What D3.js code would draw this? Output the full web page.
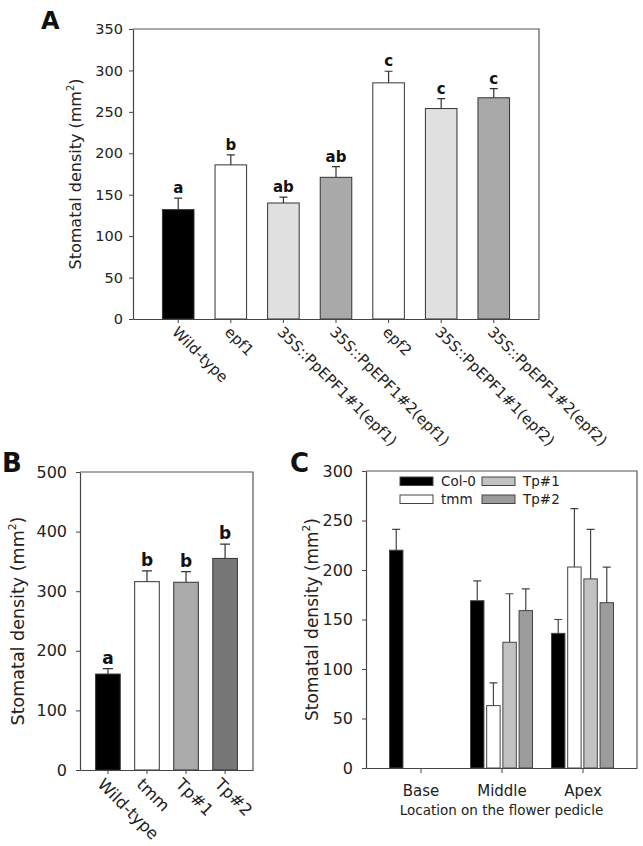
<!DOCTYPE html>
<html>
<head>
<meta charset="utf-8">
<script src="https://cdn.jsdelivr.net/npm/d3@7"></script>
<style>
  html, body { margin: 0; padding: 0; background: #fff; }
  svg { display: block; font-family: "DejaVu Sans", sans-serif; }
</style>
</head>
<body>
<svg id="chart" width="643" height="846"></svg>
<script>
// ---------- Panel A data ----------
const catsA = ["Wild-type", "epf1", "35S::PpEPF1#1(epf1)", "35S::PpEPF1#2(epf1)", "epf2", "35S::PpEPF1#1(epf2)", "35S::PpEPF1#2(epf2)"];
const meanA = [132, 186, 140, 171, 285, 254, 267];
const errA  = [14, 12, 7, 13, 14, 12, 11];
const sigA  = ["a", "b", "ab", "ab", "c", "c", "c"];
const ticksA = [0, 50, 100, 150, 200, 250, 300, 350];

// ---------- Panel B data ----------
const catsB = ["Wild-type", "tmm", "Tp#1", "Tp#2"];
const meanB = [161, 316, 315, 355];
const errB  = [9, 18, 18, 24];
const sigB  = ["a", "b", "b", "b"];
const ticksB = [0, 100, 200, 300, 400, 500];

// ---------- Panel C data ----------
const locationsC = ["Base", "Middle", "Apex"];
const linesC = ["Col-0", "tmm", "Tp#1", "Tp#2"];
const col0Mean = [220, 169, 136];
const col0Err  = [21, 20, 14];
const tmmMean  = [null, 63, 203];
const tmmErr   = [null, 23, 59];
const tp1Mean  = [null, 127, 191];
const tp1Err   = [null, 49, 50];
const tp2Mean  = [null, 159, 167];
const tp2Err   = [null, 22, 36];
const ticksC = [0, 50, 100, 150, 200, 250, 300];

// ---------- styles ----------
const fillA = ["#000000", "#ffffff", "#e0e0e0", "#a9a9a9", "#ffffff", "#e0e0e0", "#a9a9a9"];
const fillB = ["#000000", "#ffffff", "#aaaaaa", "#777777"];
const fillC = { "Col-0": "#000000", "tmm": "#ffffff", "Tp#1": "#c2c2c2", "Tp#2": "#9c9c9c" };
const axisColor = "#444";

const svg = d3.select("#chart");

function yLabel(g, x, y, size) {
  const t = g.append("text")
    .attr("transform", `translate(${x},${y}) rotate(-90)`)
    .attr("text-anchor", "middle")
    .attr("font-size", size)
    .attr("fill", "#222");
  t.append("tspan").text("Stomatal density (mm");
  t.append("tspan").attr("font-size", size * 0.62).attr("dy", -size * 0.45).text("2");
  t.append("tspan").attr("dy", size * 0.45).text(")");
}

function frame(g, x0, x1, y0, y1) {
  g.append("path")
    .attr("d", `M${x0},${y0}H${x1}V${y1}`)
    .attr("fill", "none").attr("stroke", "#555").attr("stroke-width", 1.2);
}

function styleAxis(sel, fs) {
  sel.selectAll("path").attr("stroke", axisColor).attr("stroke-width", 1.2);
  sel.selectAll("line").attr("stroke", axisColor);
  sel.selectAll("text").attr("font-size", fs).attr("fill", "#222").attr("font-family", "DejaVu Sans, sans-serif");
}

// ================= Panel A =================
(function () {
  const L = 133, R = 539, T = 29, B = 319;
  const g = svg.append("g");
  const x = d3.scaleBand().domain(catsA).range([L, R]).paddingInner(0.4).paddingOuter(0.56);
  const y = d3.scaleLinear().domain([0, 350]).range([B, T]);

  frame(g, L, R, T, B);

  const data = catsA.map((c, i) => ({ c, m: meanA[i], e: errA[i], s: sigA[i], f: fillA[i] }));

  g.selectAll("rect.bar").data(data).join("rect")
    .attr("x", d => x(d.c)).attr("width", x.bandwidth())
    .attr("y", d => y(d.m)).attr("height", d => y(0) - y(d.m))
    .attr("fill", d => d.f).attr("stroke", "#333").attr("stroke-width", 1);

  const cw = 4;
  g.selectAll("path.err").data(data).join("path")
    .attr("d", d => {
      const cx = x(d.c) + x.bandwidth() / 2;
      return `M${cx},${y(d.m)}V${y(d.m + d.e)}M${cx - cw},${y(d.m + d.e)}H${cx + cw}`;
    })
    .attr("stroke", "#333").attr("stroke-width", 1.2).attr("fill", "none");

  g.selectAll("text.sig").data(data).join("text")
    .attr("x", d => x(d.c) + x.bandwidth() / 2)
    .attr("y", d => y(d.m + d.e) - 5)
    .attr("text-anchor", "middle").attr("font-weight", "bold").attr("font-size", 15)
    .attr("fill", "#111").text(d => d.s);

  const ya = g.append("g").attr("transform", `translate(${L},0)`)
    .call(d3.axisLeft(y).tickValues(ticksA).tickSize(4).tickSizeOuter(0).tickPadding(6));
  styleAxis(ya, 14.5);

  const xa = g.append("g").attr("transform", `translate(0,${B})`)
    .call(d3.axisBottom(x).tickSize(4).tickSizeOuter(0));
  styleAxis(xa, 15);
  xa.selectAll("text")
    .attr("text-anchor", "start")
    .attr("transform", "translate(1,6) rotate(45)")
    .attr("x", 0).attr("y", 6).attr("dy", "0.35em");

  yLabel(g, 81, (T + B) / 2, 16);

  g.append("text").attr("x", 41).attr("y", 29).attr("font-size", 24)
    .attr("font-weight", "bold").attr("fill", "#111").text("A");
})();

// ================= Panel B =================
(function () {
  const L = 80, R = 253, T = 472, B = 770;
  const g = svg.append("g");
  const x = d3.scaleBand().domain(catsB).range([L, R]).paddingInner(0.37).paddingOuter(0.4);
  const y = d3.scaleLinear().domain([0, 500]).range([B, T]);

  frame(g, L, R, T, B);

  const data = catsB.map((c, i) => ({ c, m: meanB[i], e: errB[i], s: sigB[i], f: fillB[i] }));

  g.selectAll("rect.bar").data(data).join("rect")
    .attr("x", d => x(d.c)).attr("width", x.bandwidth())
    .attr("y", d => y(d.m)).attr("height", d => y(0) - y(d.m))
    .attr("fill", d => d.f).attr("stroke", "#333").attr("stroke-width", 1);

  const cw = 5;
  g.selectAll("path.err").data(data).join("path")
    .attr("d", d => {
      const cx = x(d.c) + x.bandwidth() / 2;
      return `M${cx},${y(d.m)}V${y(d.m + d.e)}M${cx - cw},${y(d.m + d.e)}H${cx + cw}`;
    })
    .attr("stroke", "#333").attr("stroke-width", 1.2).attr("fill", "none");

  g.selectAll("text.sig").data(data).join("text")
    .attr("x", d => x(d.c) + x.bandwidth() / 2)
    .attr("y", d => y(d.m + d.e) - 5)
    .attr("text-anchor", "middle").attr("font-weight", "bold").attr("font-size", 17)
    .attr("fill", "#111").text(d => d.s);

  const ya = g.append("g").attr("transform", `translate(${L},0)`)
    .call(d3.axisLeft(y).tickValues(ticksB).tickSize(4).tickSizeOuter(0).tickPadding(9));
  styleAxis(ya, 16);

  const xa = g.append("g").attr("transform", `translate(0,${B})`)
    .call(d3.axisBottom(x).tickSize(4).tickSizeOuter(0));
  styleAxis(xa, 16.5);
  xa.selectAll("text")
    .attr("text-anchor", "start")
    .attr("transform", "translate(-3,7) rotate(45)")
    .attr("x", 0).attr("y", 6).attr("dy", "0.35em");

  yLabel(g, 24, (T + B) / 2, 17.5);

  g.append("text").attr("x", 2).attr("y", 472).attr("font-size", 26)
    .attr("font-weight", "bold").attr("fill", "#111").text("B");
})();

// ================= Panel C =================
(function () {
  const L = 366, R = 637, T = 471, B = 768;
  const g = svg.append("g");
  const x0 = d3.scalePoint().domain(locationsC).range([L, R]).padding(0.673);
  const x1 = d3.scaleBand().domain(linesC).range([-31, 31]).paddingInner(0.17);
  const y = d3.scaleLinear().domain([0, 300]).range([B, T]);

  frame(g, L, R, T, B);

  const series = {
    "Col-0": [col0Mean, col0Err],
    "tmm": [tmmMean, tmmErr],
    "Tp#1": [tp1Mean, tp1Err],
    "Tp#2": [tp2Mean, tp2Err]
  };
  const data = [];
  locationsC.forEach((loc, i) => {
    linesC.forEach(ln => {
      const m = series[ln][0][i], e = series[ln][1][i];
      if (m != null) data.push({ loc, ln, m, e });
    });
  });

  g.selectAll("rect.bar").data(data).join("rect")
    .attr("x", d => x0(d.loc) + x1(d.ln)).attr("width", x1.bandwidth())
    .attr("y", d => y(d.m)).attr("height", d => y(0) - y(d.m))
    .attr("fill", d => fillC[d.ln]).attr("stroke", "#444").attr("stroke-width", 1);

  const cw = 4;
  g.selectAll("path.err").data(data).join("path")
    .attr("d", d => {
      const cx = x0(d.loc) + x1(d.ln) + x1.bandwidth() / 2;
      return `M${cx},${y(d.m)}V${y(d.m + d.e)}M${cx - cw},${y(d.m + d.e)}H${cx + cw}`;
    })
    .attr("stroke", "#444").attr("stroke-width", 1.2).attr("fill", "none");

  const ya = g.append("g").attr("transform", `translate(${L},0)`)
    .call(d3.axisLeft(y).tickValues(ticksC).tickSize(4).tickSizeOuter(0).tickPadding(9));
  styleAxis(ya, 16);

  const xa = g.append("g").attr("transform", `translate(0,${B})`)
    .call(d3.axisBottom(x0).tickSize(5).tickSizeOuter(0).tickPadding(12));
  styleAxis(xa, 15);

  g.append("text").attr("x", (L + R) / 2).attr("y", 815).attr("text-anchor", "middle")
    .attr("font-size", 13.5).attr("fill", "#222").text("Location on the flower pedicle");

  yLabel(g, 318, (T + B) / 2, 17);

  // legend
  const legPos = [[400, 477], [400, 495], [482, 477], [482, 495]];
  linesC.forEach((ln, i) => {
    const [lx, ly] = legPos[i];
    g.append("rect").attr("x", lx).attr("y", ly).attr("width", 33).attr("height", 8.5)
      .attr("fill", fillC[ln]).attr("stroke", "#444").attr("stroke-width", 1);
    g.append("text").attr("x", lx + 41).attr("y", ly + 4.5).attr("dy", "0.35em")
      .attr("font-size", 13.5).attr("fill", "#222").text(ln);
  });

  g.append("text").attr("x", 290).attr("y", 472).attr("font-size", 26)
    .attr("font-weight", "bold").attr("fill", "#111").text("C");
})();
</script>
</body>
</html>
